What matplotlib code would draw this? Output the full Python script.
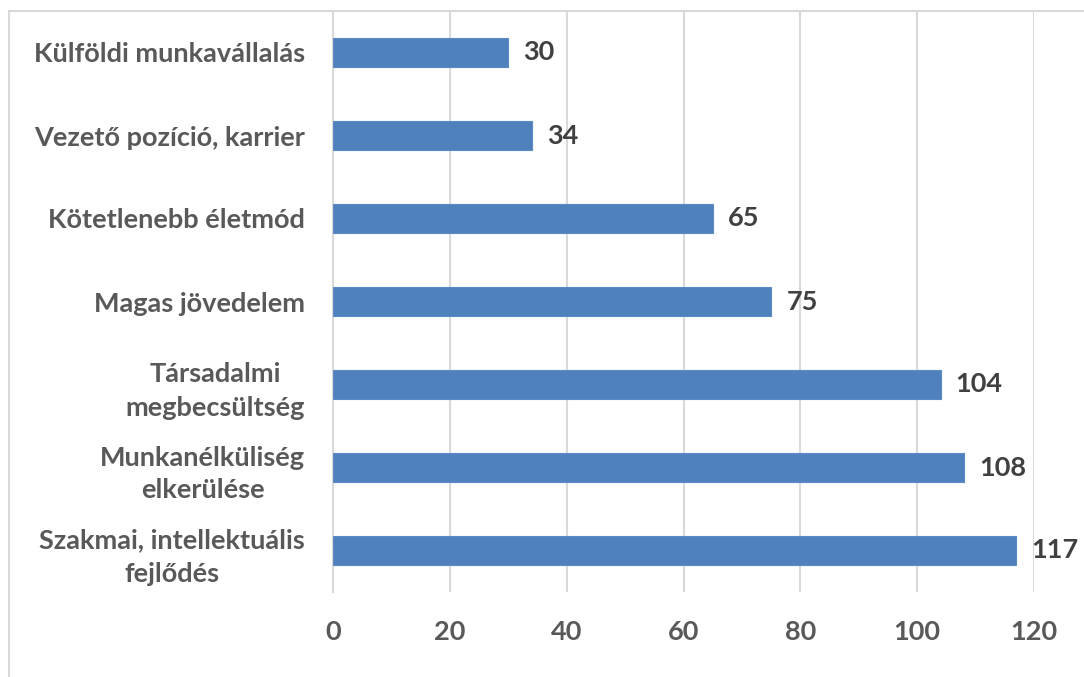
import matplotlib
matplotlib.use("Agg")
import matplotlib.pyplot as plt
from matplotlib.lines import Line2D

plt.rcParams.update({
    'font.family': ['Lato', 'DejaVu Sans'],
    'font.weight': 'bold',
})

# Data (bottom to top)
categories = [
    "Szakmai, intellektuális\nfejlődés",
    "Munkanélküliség\nelkerülése",
    "Társadalmi\nmegbecsültség",
    "Magas jövedelem",
    "Kötetlenebb életmód",
    "Vezető pozíció, karrier",
    "Külföldi munkavállalás",
]
values = [117, 108, 104, 75, 65, 34, 30]
xticks = [0, 20, 40, 60, 80, 100, 120]

BAR = '#4F81BD'
GRID = '#D9D9D9'
LABEL = '#595959'
DATA = '#404040'
FS = 19.5

W, H = 1084, 677
fig = plt.figure(figsize=(W / 100, H / 100), dpi=100)
ax = fig.add_axes([333 / W, 1 - 592 / H, (1034 - 333) / W, (592 - 11) / H])

y = list(range(len(categories)))
ax.barh(y, values, height=0.35, color=BAR, edgecolor='#5B8BC6', linewidth=0.8, zorder=3)

for yi, v in zip(y, values):
    ax.text(v + 2.6, yi, str(v), va='center', ha='left', fontsize=FS,
            fontweight='bold', color=DATA)

ax.set_xlim(0, 120)
ax.set_ylim(-0.5, len(categories) - 0.5)
ax.set_xticks(xticks)
ax.set_xticklabels([str(t) for t in xticks], fontsize=FS, fontweight='bold', color=LABEL)
ax.set_yticks(y)
ax.set_yticklabels(categories, fontsize=FS, fontweight='bold', color=LABEL,
                   multialignment='center', linespacing=1.45)

ax.grid(True, axis='x', color=GRID, linewidth=1.5, zorder=0)
ax.grid(False, axis='y')
for s in ['top', 'right', 'bottom']:
    ax.spines[s].set_visible(False)
ax.spines['left'].set_color(GRID)
ax.spines['left'].set_linewidth(1.5)
ax.tick_params(axis='both', length=0)
ax.tick_params(axis='x', pad=20)
ax.tick_params(axis='y', pad=20)

# outer chart frame (partly cropped in the reference)
fig.add_artist(Line2D([9 / W, 9 / W], [0, 1 - 11 / H], color=GRID, linewidth=1.5))
fig.add_artist(Line2D([9 / W, 1], [1 - 11 / H, 1 - 11 / H], color=GRID, linewidth=1.5))

fig.savefig('out.png', dpi=100, facecolor='white')
